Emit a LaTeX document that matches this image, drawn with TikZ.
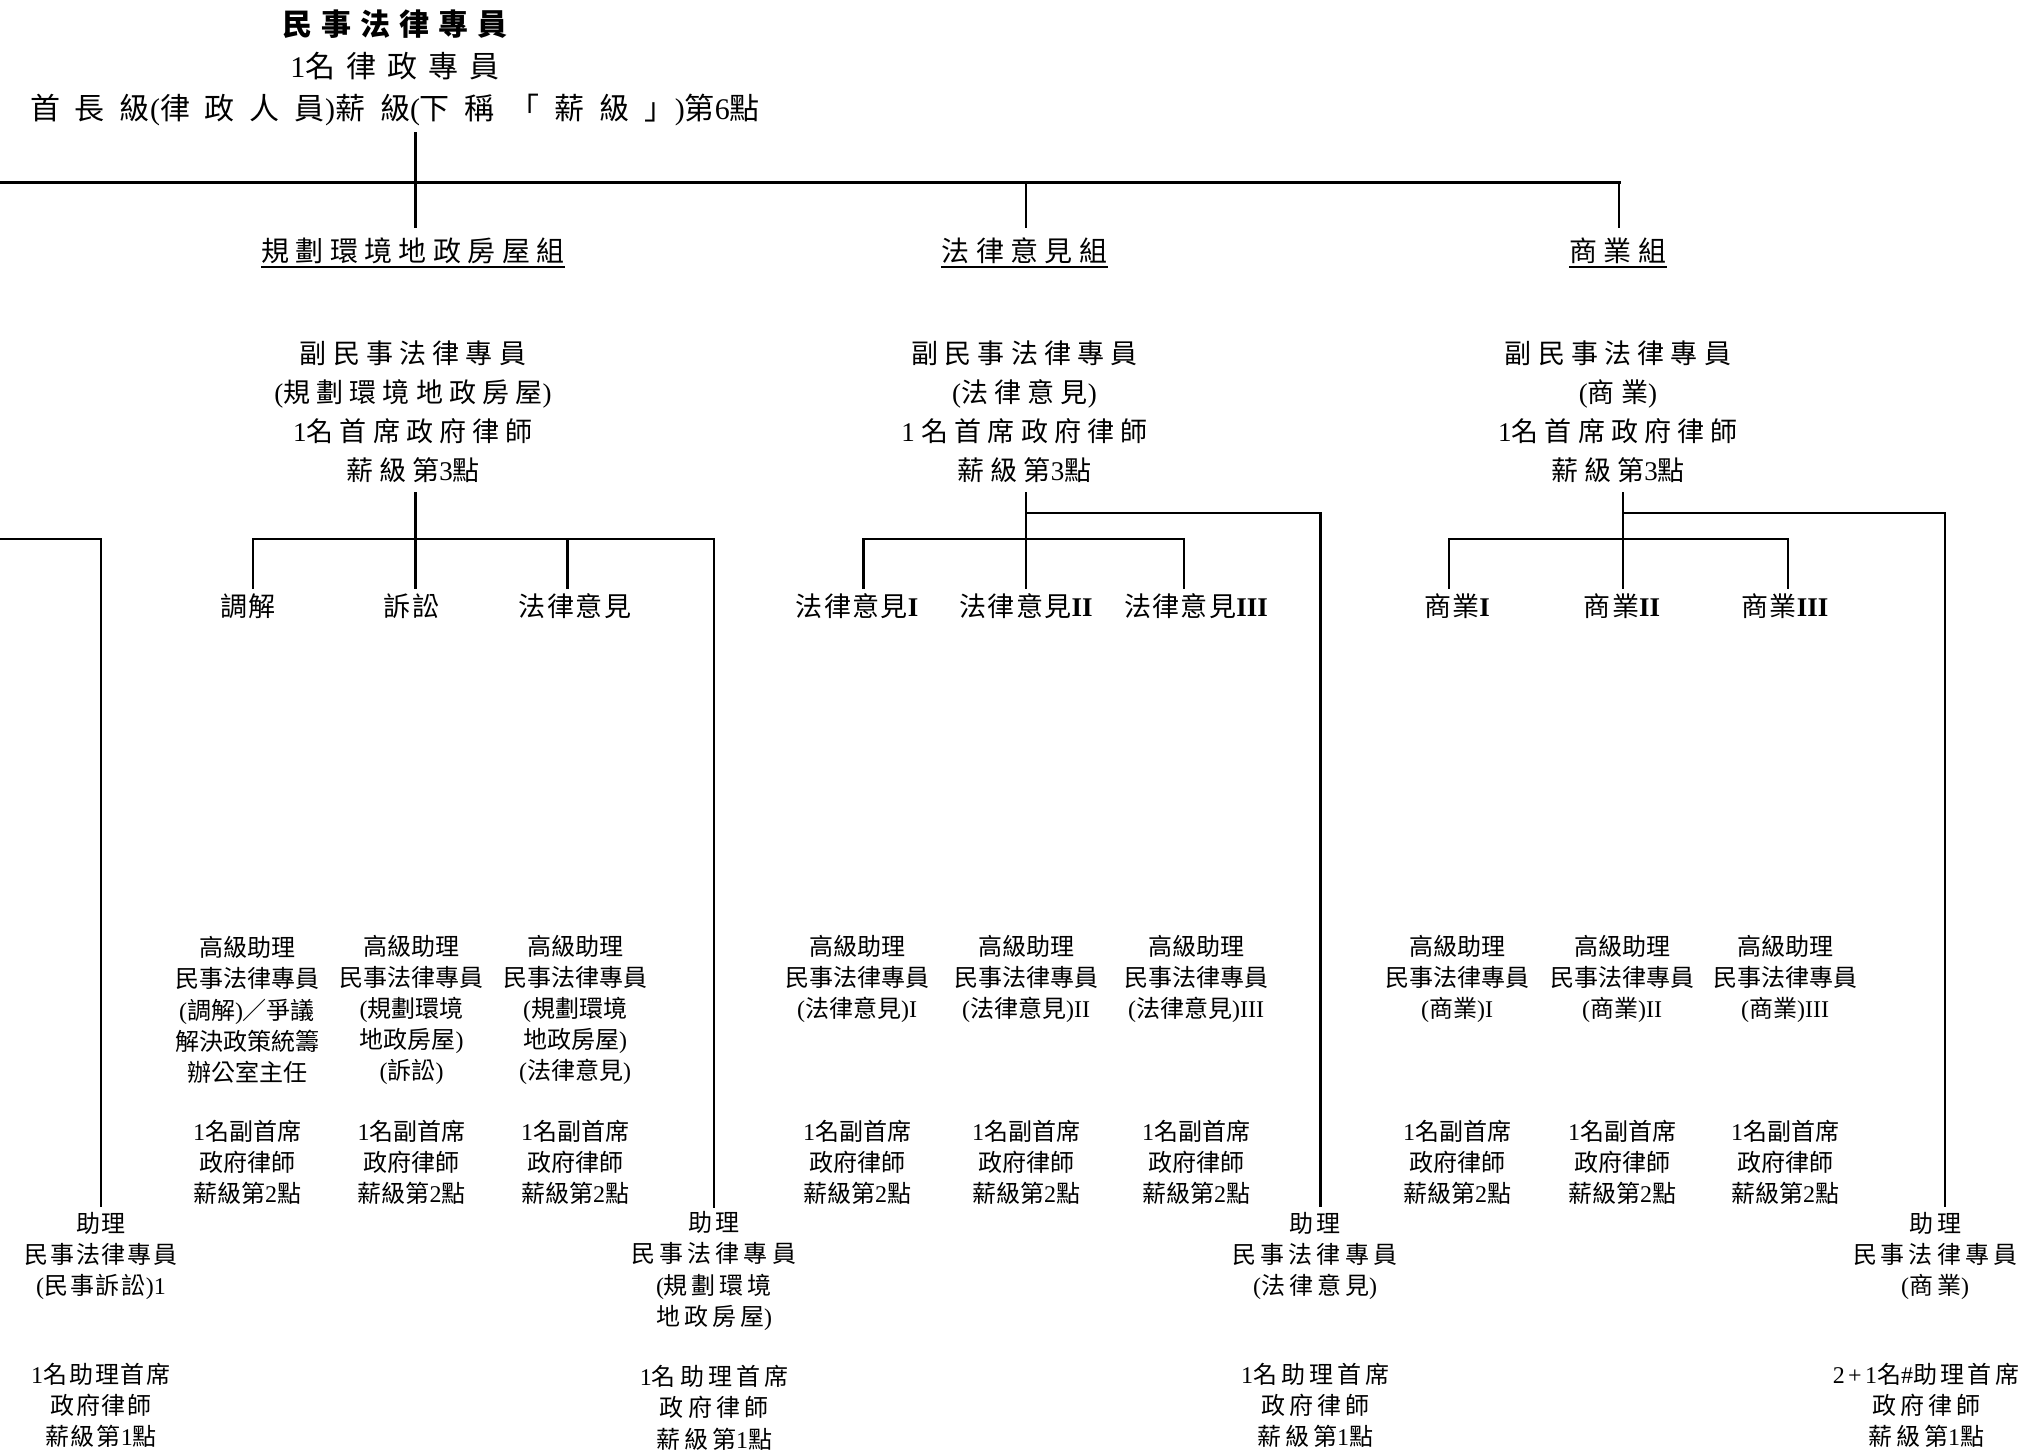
\documentclass[tikz,border=0pt]{standalone}
\usepackage{fontspec}
\setmainfont{Noto Sans CJK TC}
\newfontfamily\lat{Liberation Serif}
\newcommand\rmn[1]{{\lat #1}}
\newcommand\fT{\fontsize{30}{42}\selectfont}
\newcommand\fG{\fontsize{28}{34}\selectfont\addfontfeature{LetterSpace=23}}
\newcommand\fD{\fontsize{27}{39}\selectfont\addfontfeature{LetterSpace=23}}
\newcommand\fH{\fontsize{27}{32}\selectfont\addfontfeature{LetterSpace=5}}
\newcommand\fS{\fontsize{24}{31.2}\selectfont}
\newcommand\fA{\fontsize{24}{31.2}\selectfont\addfontfeature{LetterSpace=16.7}}
\newcommand\fAn{\fontsize{24}{31.2}\selectfont\addfontfeature{LetterSpace=8}}
\usetikzlibrary{calc}
\begin{document}
\begin{tikzpicture}[x=1pt,y=-1pt,
  ln/.style={line width=2.5pt, line cap=rect},
  topln/.style={line width=3pt, line cap=rect},
  ul/.style={line width=2pt},
  blk/.style={inner sep=0pt, align=center}]
\useasboundingbox (0,0) rectangle (2036,1451);

% ---------- title ----------
\node[blk, font=\fT] (t) at (395,68) {{\bfseries\addfontfeature{LetterSpace=30}民事法律專員}\\{\addfontfeature{LetterSpace=37}\rmn{1}名律政專員}\\{\addfontfeature{LetterSpace=50}首長級\rmn{(}律政人員\rmn{)}薪級\rmn{(}下稱「薪級」\rmn{)}第\rmn{6}點}};

% ---------- group headings ----------
\node[blk, font=\fG] (g1) at (413,250.6) {規劃環境地政房屋組};
\node[blk, font=\fG] (g2) at (1024.5,250.6) {法律意見組};
\node[blk, font=\fG] (g3) at (1618,250.6) {商業組};
\foreach \g in {g1,g2,g3}
  \draw[ul] ($(\g.south west)+(0,3)$) -- ($(\g.south east)+(0,3)$);

% ---------- deputies ----------
\node[blk, font=\fD] (d1) at (413,411.5) {副民事法律專員\\\rmn{(}規劃環境地政房屋\rmn{)}\\\rmn{1}名首席政府律師\\薪級第\rmn{3}點};
\node[blk, font=\fD] (d2) at (1024.5,411.5) {副民事法律專員\\\rmn{(}法律意見\rmn{)}\\\rmn{1 }名首席政府律師\\薪級第\rmn{3}點};
\node[blk, font=\fD] (d3) at (1618,411.5) {副民事法律專員\\\rmn{(}商業\rmn{)}\\\rmn{1}名首席政府律師\\薪級第\rmn{3}點};

% ---------- sub-unit headings ----------
\node[blk, font=\fH] (h1) at (248,606) {調解};
\node[blk, font=\fH] (h2) at (411.6,606) {訴訟};
\node[blk, font=\fH] (h3) at (575,606) {法律意見};
\node[blk, font=\fH] (h4) at (857,606) {法律意見\rmn{\bfseries I}};
\node[blk, font=\fH] (h5) at (1026,606) {法律意見\rmn{\bfseries II}};
\node[blk, font=\fH] (h6) at (1196,606) {法律意見\rmn{\bfseries III}};
\node[blk, font=\fH] (h7) at (1457,606) {商業\rmn{\bfseries I}};
\node[blk, font=\fH] (h8) at (1622,606) {商業\rmn{\bfseries II}};
\node[blk, font=\fH] (h9) at (1785,606) {商業\rmn{\bfseries III}};

% ---------- senior assistants ----------
\node[blk, font=\fS] (s1) at (247,1010) {高級助理\\民事法律專員\\\rmn{(}調解\rmn{)}／爭議\\解決政策統籌\\辦公室主任};
\node[blk, font=\fS] (s2) at (411.6,1010) {高級助理\\民事法律專員\\\rmn{(}規劃環境\\地政房屋\rmn{)}\\\rmn{(}訴訟\rmn{)}};
\node[blk, font=\fS] (s3) at (575,1010) {高級助理\\民事法律專員\\\rmn{(}規劃環境\\地政房屋\rmn{)}\\\rmn{(}法律意見\rmn{)}};
\node[blk, font=\fS] (s4) at (857,979) {高級助理\\民事法律專員\\\rmn{(}法律意見\rmn{)I}};
\node[blk, font=\fS] (s5) at (1026,979) {高級助理\\民事法律專員\\\rmn{(}法律意見\rmn{)II}};
\node[blk, font=\fS] (s6) at (1196,979) {高級助理\\民事法律專員\\\rmn{(}法律意見\rmn{)III}};
\node[blk, font=\fS] (s7) at (1457,979) {高級助理\\民事法律專員\\\rmn{(}商業\rmn{)I}};
\node[blk, font=\fS] (s8) at (1622,979) {高級助理\\民事法律專員\\\rmn{(}商業\rmn{)II}};
\node[blk, font=\fS] (s9) at (1785,979) {高級助理\\民事法律專員\\\rmn{(}商業\rmn{)III}};

% ---------- deputy principal ranks ----------
\foreach \i/\x in {1/247,2/411.6,3/575,4/857,5/1026,6/1196,7/1457,8/1622,9/1785}
  \node[blk, font=\fS] (p\i) at (\x,1162) {\rmn{1}名副首席\\政府律師\\薪級第\rmn{2}點};

% ---------- assistants ----------
\node[blk, font=\fAn] (a0) at (101,1256) {助理\\民事法律專員\\\rmn{(}民事訴訟\rmn{)1}};
\node[blk, font=\fAn] (b0) at (101,1405) {\rmn{1}名助理首席\\政府律師\\薪級第\rmn{1}點};
\node[blk, font=\fA] (a1) at (714,1271) {助理\\民事法律專員\\\rmn{(}規劃環境\\地政房屋\rmn{)}};
\node[blk, font=\fA] (b1) at (714,1407.6) {\rmn{1}名助理首席\\政府律師\\薪級第\rmn{1}點};
\node[blk, font=\fA] (a2) at (1315,1256) {助理\\民事法律專員\\\rmn{(}法律意見\rmn{)}};
\node[blk, font=\fA] (b2) at (1315,1405) {\rmn{1}名助理首席\\政府律師\\薪級第\rmn{1}點};
\node[blk, font=\fA] (a3) at (1935,1256) {助理\\民事法律專員\\\rmn{(}商業\rmn{)}};
\node[blk, font=\fA] (b3) at (1926,1405) {{\addfontfeature{LetterSpace=14}{\lat\addfontfeature{LetterSpace=14}2+1}名{\lat\addfontfeature{LetterSpace=14}\#}助理首席}\\政府律師\\薪級第\rmn{1}點};

% ---------- junction coordinates ----------
\coordinate (tl) at (0,182);
\coordinate (tj) at (415.5,182);
\coordinate (tm) at (1026,182);
\coordinate (tr) at (1619,182);

\coordinate (b0l) at (0,539);
\coordinate (b0r) at (101,539);

\coordinate (b1l) at (253,539);
\coordinate (j1) at (415.5,539);
\coordinate (b1m) at (567.5,539);
\coordinate (b1r) at (714,539);

\coordinate (b2l) at (863.5,539);
\coordinate (j2) at (1026,539);
\coordinate (b2r) at (1184,539);
\coordinate (k2) at (1026,513);
\coordinate (k2r) at (1320.5,513);

\coordinate (b3l) at (1449,539);
\coordinate (j3) at (1623,539);
\coordinate (b3r) at (1788,539);
\coordinate (k3) at (1623,513);
\coordinate (k3r) at (1945,513);

% ---------- connectors ----------
\draw[ln] ($(t.south -| tj)+(0,7)$) -- (tj);
\draw[topln] (tl) -- (tr);
\draw[ln] (tj) -- ($(tj |- g1.north)+(0,-11)$);
\draw[ln] (tm) -- ($(tm |- g2.north)+(0,-11)$);
\draw[ln] (tr) -- ($(tr |- g3.north)+(0,-11)$);

% group 1
\draw[ln] ($(d1.south -| j1)+(0,11)$) -- ($(j1 |- h2.north)+(0,-6)$);
\draw[ln] (b1l) -- (b1r);
\draw[ln] (b1l) -- ($(b1l |- h1.north)+(0,-6)$);
\draw[ln] (b1m) -- ($(b1m |- h3.north)+(0,-6)$);
\draw[ln] (b1r) -- ($(b1r |- a1.north)+(0,-5)$);
\draw[ln] (b0l) -- (b0r) -- ($(b0r |- a0.north)+(0,-6)$);

% group 2
\draw[ln] ($(d2.south -| j2)+(0,11)$) -- ($(j2 |- h5.north)+(0,-6)$);
\draw[ln] (b2l) -- (b2r);
\draw[ln] (b2l) -- ($(b2l |- h4.north)+(0,-6)$);
\draw[ln] (b2r) -- ($(b2r |- h6.north)+(0,-6)$);
\draw[ln] (k2) -- (k2r) -- ($(k2r |- a2.north)+(0,-6)$);

% group 3
\draw[ln] ($(d3.south -| j3)+(0,11)$) -- ($(j3 |- h8.north)+(0,-6)$);
\draw[ln] (b3l) -- (b3r);
\draw[ln] (b3l) -- ($(b3l |- h7.north)+(0,-6)$);
\draw[ln] (b3r) -- ($(b3r |- h9.north)+(0,-6)$);
\draw[ln] (k3) -- (k3r) -- ($(k3r |- a3.north)+(0,-6)$);
\end{tikzpicture}
\end{document}
